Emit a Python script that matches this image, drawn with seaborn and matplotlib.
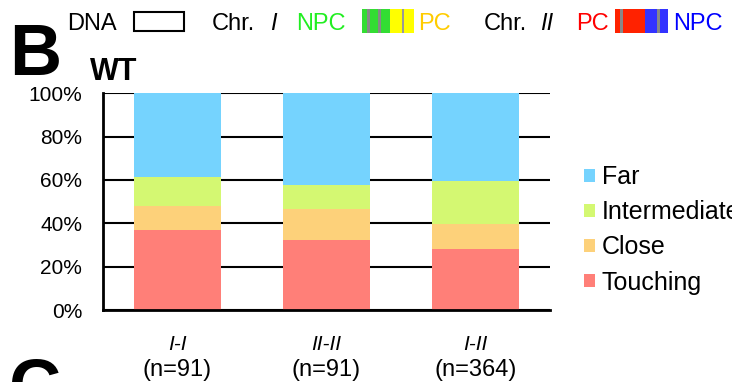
import numpy as np
import pandas as pd
import matplotlib
matplotlib.use("Agg")
import matplotlib.pyplot as plt
from matplotlib.patches import Rectangle, Patch
import seaborn as sns

# data (percent of cells per pair type)
pairs = ["I-I", "II-II", "I-II"]
counts = ["(n=91)", "(n=91)", "(n=364)"]
touching = [36.8, 32.4, 28.3]
close = [11.2, 14.3, 11.2]
intermediate = [13.2, 11.1, 19.9]
far = [38.8, 42.2, 40.6]

categories = ["Far", "Intermediate", "Close", "Touching"]
colors = ["#75d3fe", "#d4f872", "#fdd17a", "#ff7f78"]

sns.set_style("white")
plt.rcParams["font.family"] = ["Liberation Sans", "DejaVu Sans"]
for k in ["text.color", "axes.labelcolor", "xtick.color", "ytick.color"]:
    plt.rcParams[k] = "black"

df = pd.DataFrame({"pair": pairs, "Touching": touching, "Close": close,
                   "Intermediate": intermediate, "Far": far})
# cumulative tops so the bars can be overlaid back to front
df["c_touch"] = df["Touching"]
df["c_close"] = df["c_touch"] + df["Close"]
df["c_inter"] = df["c_close"] + df["Intermediate"]
df["c_far"] = df["c_inter"] + df["Far"]

fig = plt.figure(figsize=(7.32, 3.82), dpi=100)
ax = fig.add_axes([103/732, 1-310/382, 447/732, (310-93.3)/382])

for col, c in zip(["c_far", "c_inter", "c_close", "c_touch"], colors):
    sns.barplot(data=df, x="pair", y=col, color=c, width=0.58,
                saturation=1, ax=ax, linewidth=0, zorder=2)

ax.set_ylim(0, 100)
ax.set_xlim(-0.5, 2.5)
ax.set_yticks([0, 20, 40, 60, 80, 100])
ax.set_yticklabels([f"{v}%" for v in range(0, 101, 20)], fontsize=15)
ax.set_xticks([-0.5, 0.5, 1.5, 2.5])
ax.set_xticklabels([])
ax.set_xlabel("")
ax.set_ylabel("")
ax.yaxis.grid(True, color="black", lw=1.5, zorder=0)
ax.set_axisbelow(True)
for s in ["top", "right"]:
    ax.spines[s].set_visible(False)
for s in ["left", "bottom"]:
    ax.spines[s].set_linewidth(2)
    ax.spines[s].set_color("black")
ax.tick_params(axis="both", direction="out", length=5, width=2, color="black", pad=10)
ax.spines["left"].set_zorder(3)

xt = ax.get_xaxis_transform()
for i, (p, n) in enumerate(zip(pairs, counts)):
    ax.text(i, (310-350)/216.7, p, transform=xt, ha="center", va="baseline",
            fontsize=15, style="italic")
    ax.text(i, (310-376)/216.7, n, transform=xt, ha="center", va="baseline",
            fontsize=17)

handles = [Patch(facecolor=c, edgecolor="none") for c in colors]
ax.legend(handles, categories, loc="upper left", frameon=False,
          bbox_to_anchor=(584/732, 1-165/382), bbox_transform=fig.transFigure,
          fontsize=18, handlelength=0.42, handleheight=0.42, handletextpad=0.3,
          labelspacing=0.45, borderaxespad=0, borderpad=0)

# header: panel letters, title and chromosome colour keys
def fx(x):
    return x/732

def fy(y):
    return 1 - y/382

fig.text(fx(9), fy(75), "B", fontsize=52, fontweight="bold", va="baseline", ha="left")
fig.text(fx(9), fy(410), "C", fontsize=52, fontweight="bold", va="baseline", ha="left")
fig.text(fx(90), fy(80), "WT", fontsize=22, fontweight="bold", va="baseline", ha="left")

hy = 30
fig.text(fx(67), fy(hy), "DNA", fontsize=17, va="baseline", ha="left")
fig.add_artist(Rectangle((fx(134), fy(31)), fx(50), 19/382, transform=fig.transFigure,
                         facecolor="white", edgecolor="black", lw=1.5))
fig.text(fx(212), fy(hy), "Chr.", fontsize=17, va="baseline", ha="left")
fig.text(fx(270), fy(hy), "I", fontsize=17, va="baseline", ha="left", style="italic")
fig.text(fx(296), fy(hy), "NPC", fontsize=17, va="baseline", ha="left", color="#22ee22")

def stripes(x0, segs, y0=9, h=24):
    x = x0
    for w, c in segs:
        fig.add_artist(Rectangle((fx(x), fy(y0+h)), fx(w), h/382, transform=fig.transFigure,
                                 facecolor=c, edgecolor="none"))
        x += w

stripes(362, [(5, "#33dd33"), (3, "#888888"), (8, "#33dd33"), (3, "#888888"),
              (9, "#33dd33"), (12, "#ffff00"), (2, "#999999"), (10, "#ffff00")])
fig.text(fx(418), fy(hy), "PC", fontsize=17, va="baseline", ha="left", color="#ffcc00")
fig.text(fx(484), fy(hy), "Chr.", fontsize=17, va="baseline", ha="left")
fig.text(fx(540), fy(hy), "II", fontsize=17, va="baseline", ha="left", style="italic")
fig.text(fx(576), fy(hy), "PC", fontsize=17, va="baseline", ha="left", color="#ff0000")
stripes(615, [(5, "#ff2200"), (3, "#888888"), (22, "#ff2200"), (12, "#3333ff"),
              (3, "#888888"), (8, "#3333ff")])
fig.text(fx(673), fy(hy), "NPC", fontsize=17, va="baseline", ha="left", color="#0000ff")

fig.savefig("out.png", dpi=100)
